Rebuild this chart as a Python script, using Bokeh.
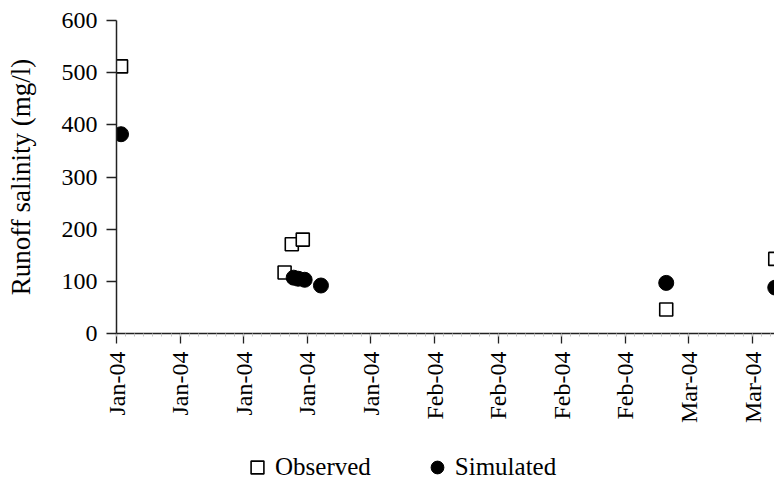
import math
import pandas as pd
from bokeh.plotting import figure
from bokeh.layouts import column
from bokeh.models import (Range1d, FixedTicker, DatetimeTickFormatter, Legend,
                          LegendItem, ColumnDataSource)
from bokeh.embed import file_html
from bokeh.resources import INLINE

# ---- data ----
obs_dates = ["2004-01-01 12:00", "2004-01-19 12:00", "2004-01-20 07:00",
             "2004-01-21 12:00", "2004-03-01 12:00", "2004-03-13 12:00"]
obs_values = [512, 117, 171, 180, 46, 143]

sim_dates = ["2004-01-01 12:00", "2004-01-20 12:00", "2004-01-21 00:00",
             "2004-01-21 17:00", "2004-01-23 12:00", "2004-03-01 12:00",
             "2004-03-13 12:00"]
sim_values = [382, 107, 105, 103, 92, 97, 88]

tick_dates = ["2004-01-01", "2004-01-08", "2004-01-15", "2004-01-22",
              "2004-01-29", "2004-02-05", "2004-02-12", "2004-02-19",
              "2004-02-26", "2004-03-04", "2004-03-11"]
y_ticks = [0, 100, 200, 300, 400, 500, 600]
x_start = "2004-01-01"
x_end = "2004-03-13 10:00"
series_labels = ["Observed", "Simulated"]

FONT = "Liberation Serif"


def ms(d):
    return pd.Timestamp(d).value / 1e6


obs_src = ColumnDataSource(dict(x=pd.to_datetime(obs_dates), y=obs_values))
sim_src = ColumnDataSource(dict(x=pd.to_datetime(sim_dates), y=sim_values))

p = figure(width=774, height=445, x_axis_type="datetime",
           output_backend="svg", toolbar_location=None,
           x_range=Range1d(pd.Timestamp(x_start), pd.Timestamp(x_end)),
           y_range=Range1d(0, 600),
           min_border_left=116, min_border_right=0,
           min_border_top=20, min_border_bottom=112)
p.outline_line_color = None
p.xgrid.visible = False
p.ygrid.visible = False
p.background_fill_color = "white"
p.border_fill_color = "white"

marker_obs = dict(marker="square", size=13, fill_color="white",
                  line_color="black", line_width=1.6)
marker_sim = dict(marker="circle", size=15, fill_color="black",
                  line_color="black", line_width=1)

p.scatter("x", "y", source=obs_src, **marker_obs)
p.scatter("x", "y", source=sim_src, **marker_sim)

# x axis
major = [ms(d) for d in tick_dates]
day = 86400000.0
minor = [major[0] + i * day for i in range(int((ms(x_end) - major[0]) / day) + 1)]
xa = p.xaxis[0]
xa.ticker = FixedTicker(ticks=major, minor_ticks=minor)
fmt = "%b-%y"
xa.formatter = DatetimeTickFormatter(microseconds=fmt, milliseconds=fmt,
                                     seconds=fmt, minsec=fmt, minutes=fmt,
                                     hourmin=fmt, hours=fmt, days=fmt,
                                     months=fmt, years=fmt)
xa.major_label_orientation = math.pi / 2
xa.major_label_standoff = 8
xa.major_tick_out = 10
xa.major_tick_in = 0
xa.minor_tick_out = 3
xa.minor_tick_in = 0
xa.minor_tick_line_color = "#c4c4c4"
xa.major_label_text_font = FONT
xa.major_label_text_font_size = "24px"
xa.major_label_text_color = "black"
xa.axis_line_color = "#222222"
xa.axis_line_width = 1.5
xa.major_tick_line_color = "#222222"
xa.major_tick_line_width = 1.3

# y axis
ya = p.yaxis[0]
ya.ticker = FixedTicker(ticks=y_ticks)
ya.minor_tick_line_color = None
ya.major_tick_out = 10
ya.major_tick_in = 0
ya.major_label_standoff = 9
ya.major_label_text_font = FONT
ya.major_label_text_font_size = "24px"
ya.major_label_text_color = "black"
ya.axis_line_color = "#222222"
ya.axis_line_width = 1.5
ya.major_tick_line_color = "#222222"
ya.major_tick_line_width = 1.3
ya.axis_label = "Runoff salinity (mg/l)"
ya.axis_label_text_font = FONT
ya.axis_label_text_font_size = "27px"
ya.axis_label_text_font_style = "normal"
ya.axis_label_text_color = "black"
ya.axis_label_standoff = 23

# legend strip below the chart (its renderers reuse the series sources,
# which fall outside this strip's ranges, so only the legend shows)
leg = figure(width=774, height=40, output_backend="svg", toolbar_location=None,
             x_range=Range1d(0, 1), y_range=Range1d(0, 1), min_border=0)
leg.axis.visible = False
leg.grid.visible = False
leg.outline_line_color = None
leg.background_fill_color = "white"
leg.border_fill_color = "white"
lr_obs = leg.scatter("x", "y", source=obs_src, **marker_obs)
lr_sim = leg.scatter("x", "y", source=sim_src, **marker_sim)

legend = Legend(items=[LegendItem(label=series_labels[0], renderers=[lr_obs]),
                       LegendItem(label=series_labels[1], renderers=[lr_sim])],
                orientation="horizontal", location=(125, 2),
                border_line_color=None, background_fill_alpha=0,
                label_text_font=FONT, label_text_font_size="25px",
                label_text_color="black",
                glyph_width=32, glyph_height=32, label_height=32,
                label_standoff=2, spacing=50, padding=0, margin=0)
leg.add_layout(legend)

layout = column(p, leg, spacing=0)
open("out.html", "w").write(file_html(layout, INLINE))
